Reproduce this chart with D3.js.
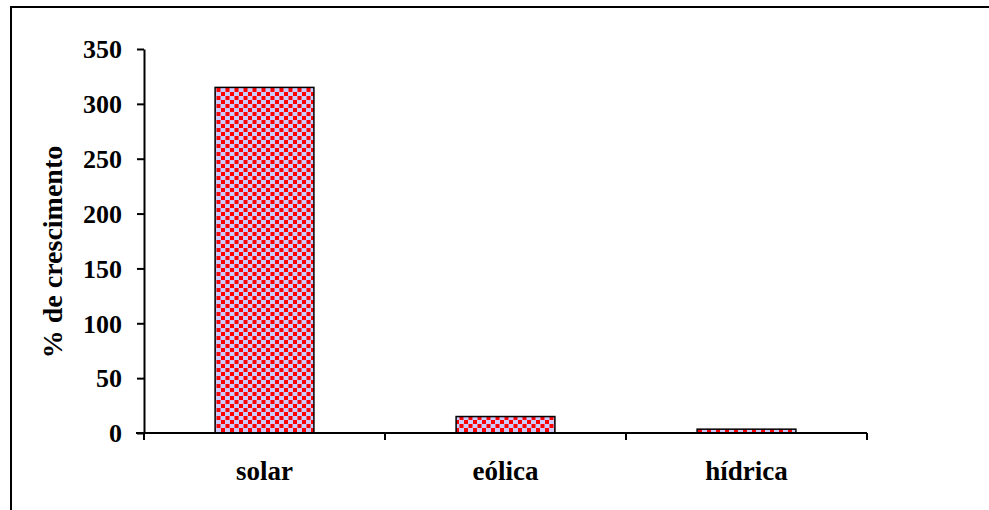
<!DOCTYPE html>
<html>
<head>
<meta charset="utf-8">
<script src="https://cdn.jsdelivr.net/npm/d3@7"></script>
<style>
  html, body { margin: 0; padding: 0; background: #fff; }
  svg { display: block; }
  text { font-family: "Liberation Serif", "Times New Roman", serif; font-weight: bold; fill: #000; }
</style>
</head>
<body>
<svg id="chart" width="989" height="510"></svg>
<script>
const categories = ["solar", "eólica", "hídrica"];
const values = [315, 15, 3.5];
const yTicks = [0, 50, 100, 150, 200, 250, 300, 350];
const yLabel = "% de crescimento";

const svg = d3.select("#chart");

// pattern
const defs = svg.append("defs");
const pat = defs.append("pattern")
  .attr("id", "dots")
  .attr("patternUnits", "userSpaceOnUse")
  .attr("width", 9).attr("height", 8);
pat.append("rect").attr("width", 9).attr("height", 8).attr("fill", "#ccccff");
pat.append("rect").attr("x", 0.5).attr("y", 0).attr("width", 4).attr("height", 4).attr("fill", "#ff0000");
pat.append("rect").attr("x", 5).attr("y", 4).attr("width", 4).attr("height", 4).attr("fill", "#ff0000");

// outer border
svg.append("path")
  .attr("d", "M11,520 L11,7 L1000,7")
  .attr("fill", "none").attr("stroke", "#000").attr("stroke-width", 2);

const y = d3.scaleLinear().domain([0, 350]).range([433, 49]);
const x = d3.scaleBand().domain(categories).range([144, 867])
  .paddingInner(0.59).paddingOuter(0.295);

// bars
svg.append("g").selectAll("rect")
  .data(categories)
  .join("rect")
  .attr("x", d => x(d))
  .attr("y", (d, i) => y(values[i]))
  .attr("width", x.bandwidth())
  .attr("height", (d, i) => y(0) - y(values[i]))
  .attr("fill", "url(#dots)")
  .attr("stroke", "#000")
  .attr("stroke-width", 1.5);

// y axis
const yAxis = d3.axisLeft(y).tickValues(yTicks).tickSize(7).tickPadding(15).tickSizeOuter(0);
const gy = svg.append("g").attr("transform", "translate(144,0)").call(yAxis);
gy.select(".domain").attr("stroke-width", 2);
gy.selectAll(".tick line").attr("stroke-width", 2);
gy.selectAll("text").style("font-size", "26px").attr("dy", "0.34em");

// x axis line
const step = x.step();
const x0 = x.range()[0];
svg.append("line")
  .attr("x1", 136).attr("x2", x.range()[1])
  .attr("y1", y(0)).attr("y2", y(0))
  .attr("stroke", "#000").attr("stroke-width", 2);
// x ticks at category boundaries
svg.append("g").selectAll("line")
  .data(d3.range(categories.length + 1))
  .join("line")
  .attr("x1", i => x0 + i * step).attr("x2", i => x0 + i * step)
  .attr("y1", y(0)).attr("y2", y(0) + 7)
  .attr("stroke", "#000").attr("stroke-width", 2);

// x labels
svg.append("g").selectAll("text")
  .data(categories)
  .join("text")
  .attr("x", d => x(d) + x.bandwidth() / 2)
  .attr("y", 480)
  .attr("text-anchor", "middle")
  .style("font-size", "27px")
  .text(d => d);

// y label
svg.append("text")
  .attr("transform", "translate(62,252) rotate(-90)")
  .attr("text-anchor", "middle")
  .style("font-size", "28px")
  .text(yLabel);
</script>
</body>
</html>
